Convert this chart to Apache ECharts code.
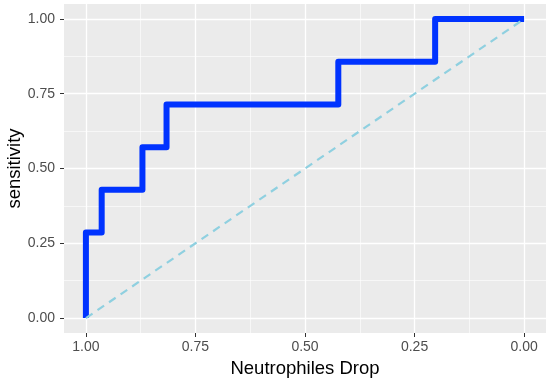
<!DOCTYPE html>
<html>
<head>
<meta charset="utf-8">
<script src="https://cdn.jsdelivr.net/npm/echarts@6/dist/echarts.min.js"></script>
<style>
html,body{margin:0;padding:0;background:#fff;}
#chart{width:550px;height:381px;}
</style>
</head>
<body>
<div id="chart"></div>
<script>
// ROC curve coordinates (specificity on x, reversed; sensitivity on y)
const specificity = [1.000, 1.000, 0.964, 0.964, 0.871, 0.871, 0.816, 0.816, 0.424, 0.424, 0.203, 0.203, 0.000];
const sensitivity = [0.000, 0.286, 0.286, 0.429, 0.429, 0.571, 0.571, 0.714, 0.714, 0.857, 0.857, 1.000, 1.000];
// Reference diagonal
const diagX = [1, 0];
const diagY = [0, 1];
// Tick values
const majorTicks = [0, 0.25, 0.5, 0.75, 1];
const minorTicks = [0.125, 0.375, 0.625, 0.875];
const xTitle = 'Neutrophiles Drop';
const yTitle = 'sensitivity';

const FONT = "'Liberation Sans', Arial, Helvetica, sans-serif";
const rocData = specificity.map((s, i) => [s, sensitivity[i]]);
const diagData = diagX.map((x, i) => [x, diagY[i]]);

function majorAxis(isX) {
  return {
    type: 'value',
    position: isX ? 'bottom' : 'left',
    min: -0.05, max: 1.05,
    inverse: isX,
    name: isX ? xTitle : yTitle,
    nameLocation: 'middle',
    nameGap: isX ? 26 : 40,
    nameMoveOverlap: false,
    nameTextStyle: { fontFamily: FONT, fontSize: 18.5, color: '#000' },
    axisLine: { show: false, onZero: false },
    axisTick: { show: true, customValues: majorTicks, length: 4, lineStyle: { color: '#333', width: 1 } },
    axisLabel: { show: true, customValues: majorTicks, formatter: v => v.toFixed(2),
      fontFamily: FONT, fontSize: 14, color: '#4d4d4d', margin: isX ? 7 : 9 },
    splitLine: { show: true, lineStyle: { color: '#ffffff', width: 1.3 } },
    minorSplitLine: { show: false }
  };
}
function minorAxis(isX) {
  return {
    type: 'value',
    position: isX ? 'top' : 'right',
    min: -0.05, max: 1.05,
    inverse: isX,
    axisLine: { show: false, onZero: false },
    axisTick: { show: false, customValues: minorTicks },
    axisLabel: { show: false, customValues: minorTicks },
    splitLine: { show: true, lineStyle: { color: '#ffffff', width: 0.6 } }
  };
}

const chart = echarts.init(document.getElementById('chart'), null, { renderer: 'canvas' });
chart.setOption({
  animation: false,
  backgroundColor: '#ffffff',
  grid: { left: 64, right: 4, top: 4, bottom: 48, show: true, backgroundColor: '#ebebeb', borderWidth: 0,
          containLabel: false, outerBoundsMode: 'none' },
  xAxis: [majorAxis(true), minorAxis(true)],
  yAxis: [majorAxis(false), minorAxis(false)],
  series: [
    {
      type: 'line', xAxisIndex: 0, yAxisIndex: 0,
      data: rocData, showSymbol: false, symbol: 'none',
      lineStyle: { color: '#0033ff', width: 6, join: 'round', cap: 'butt' },
      z: 3
    },
    {
      type: 'line', xAxisIndex: 0, yAxisIndex: 0,
      data: diagData, showSymbol: false, symbol: 'none',
      lineStyle: { color: '#8fd0e0', width: 2.2, type: [8, 6] },
      z: 4
    }
  ]
});
</script>
</body>
</html>
